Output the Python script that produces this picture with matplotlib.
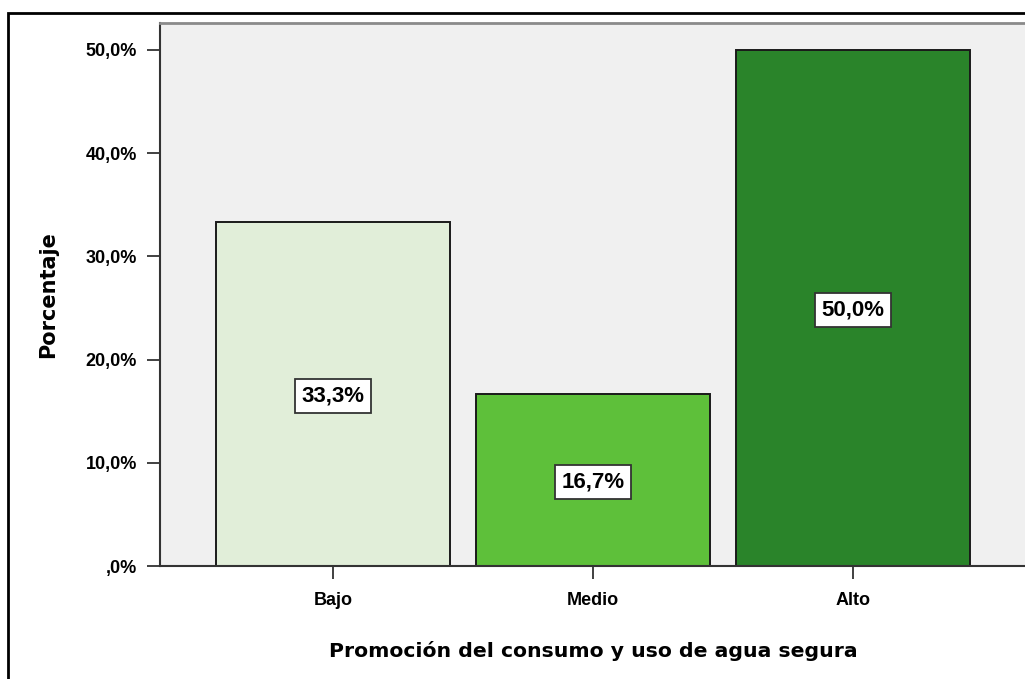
import matplotlib
matplotlib.use("Agg")
import matplotlib.pyplot as plt
from matplotlib.patches import Rectangle
from matplotlib.ticker import FuncFormatter

# porcentajes por nivel de promocion
niveles = ["Bajo", "Medio", "Alto"]
porcentajes = [33.3, 16.7, 50.0]
colores = ["#E1EED9", "#5EC03A", "#2A842A"]
yticks = [0, 10, 20, 30, 40, 50]

plt.rcParams['font.family'] = ['Liberation Sans', 'DejaVu Sans']

W, H = 1025, 679
fig = plt.figure(figsize=(W / 100, H / 100), dpi=100)

# marco exterior del grafico
fig.patches.append(Rectangle((8 / W, -0.1), 1.2, 1 - 13 / H + 0.1, transform=fig.transFigure,
                             fill=False, edgecolor="black", linewidth=2, zorder=0))

ax = fig.add_axes([160 / W, 1 - 566 / H, 866 / W, 543 / H])
ax.set_facecolor("#F0F0F0")

x = range(len(niveles))
ax.bar(x, porcentajes, width=0.9, color=colores, edgecolor="#1a1a1a", linewidth=1.4, zorder=2)

for i, v in enumerate(porcentajes):
    ax.text(i, v / 2 - 0.2, "{:.1f}%".format(v).replace(".", ","), ha="center", va="center",
            fontsize=16, fontweight="bold", zorder=3,
            bbox=dict(boxstyle="square,pad=0.3", facecolor="white", edgecolor="#333333", linewidth=1.3))

ax.set_xlim(-0.665, 2.665)
ax.set_ylim(0, 52.6)
ax.set_xticks(list(x))
ax.set_xticklabels(niveles, fontsize=13, fontweight="bold")
ax.set_yticks(yticks)
ax.yaxis.set_major_formatter(FuncFormatter(lambda v, p: ",0%" if v == 0 else "{:.1f}%".format(v).replace(".", ",")))
for lab in ax.get_yticklabels():
    lab.set_fontweight("bold")
ax.tick_params(axis="y", length=9.5, width=1.3, pad=7, labelsize=13, color="#333333")
ax.tick_params(axis="x", length=9, width=1.3, pad=10, labelsize=13, color="#333333")

for s in ["left", "bottom"]:
    ax.spines[s].set_color("#333333")
    ax.spines[s].set_linewidth(1.5)
ax.spines["top"].set_color("#8a8a8a")
ax.spines["top"].set_linewidth(2)
ax.spines["right"].set_visible(False)

ax.set_ylabel("Porcentaje", fontsize=15, fontweight="bold", family=["DejaVu Sans"], labelpad=20)
ax.set_xlabel("Promoción del consumo y uso de agua segura", fontsize=14.7, fontweight="bold",
              family=["DejaVu Sans"], labelpad=23)

fig.savefig("out.png", dpi=100)
